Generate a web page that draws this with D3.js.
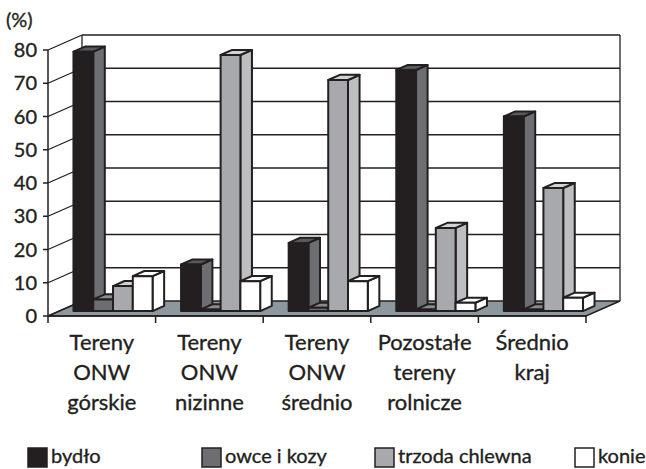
<!DOCTYPE html>
<html><head><meta charset="utf-8">
<script src="https://cdn.jsdelivr.net/npm/d3@7"></script>
<style>body{margin:0;background:#fff}svg{display:block}text{font-family:Lato,"Noto Sans",sans-serif;fill:#231f20;stroke:#231f20;stroke-width:0.35px}</style>
</head><body>
<script>
const categories = ["Tereny ONW górskie", "Tereny ONW nizinne", "Tereny ONW średnio", "Pozostałe tereny rolnicze", "Średnio kraj"];
const seriesNames = ["bydło", "owce i kozy", "trzoda chlewna", "konie"];
const bydlo = [78, 14, 20.5, 72.5, 58.5];
const owce = [3.5, 0.5, 1, 0.5, 0.5];
const trzoda = [7.5, 77, 69.5, 25, 37];
const konie = [10.5, 9, 9, 2.5, 4];
const yTicks = [0, 10, 20, 30, 40, 50, 60, 70, 80];
const seriesValues = [bydlo, owce, trzoda, konie];
const faceColors = [
  {front:"#231f20", side:"#6d6e71", top:"#58595b"},
  {front:"#6d6e71", side:"#58595b", top:"#8a8b8d"},
  {front:"#a7a9ac", side:"#bcbec0", top:"#d1d3d4"},
  {front:"#ffffff", side:"#ffffff", top:"#ffffff"}
];
const W = 646, H = 469;
const svg = d3.select("body").append("svg").attr("width", W).attr("height", H);
const ink = "#231f20";
const DX = 34, DY = -15;
const y = d3.scaleLinear().domain([0, 80]).range([316, 50]);
const x0 = d3.scaleBand().domain(categories).range([48, 586]).paddingInner(0).paddingOuter(0);
const x1 = d3.scaleBand().domain(seriesNames).range([0, x0.bandwidth()]).paddingInner(0).paddingOuter(0.72);
const P = (px, v, z) => [px + z * DX, y(v) + z * DY];
const line = d3.line();

// floor
svg.append("path").attr("d", line([P(48,0,0), P(586,0,0), P(586,0,1), P(48,0,1)]) + "Z")
  .attr("fill", "#8c979e").attr("stroke", ink).attr("stroke-width", 1.5);
// back wall gridlines + left wall lines
yTicks.forEach(t => {
  if (t > 0) svg.append("path").attr("d", line([P(48,t,1), P(586,t,1)])).attr("stroke", ink).attr("stroke-width", 1.5).attr("fill","none");
  svg.append("path").attr("d", line([P(48,t,0), P(48,t,1)])).attr("stroke", ink).attr("stroke-width", 1.3).attr("fill","none");
});
svg.append("path").attr("d", line([P(48,0,1), P(48,80,1)])).attr("stroke", ink).attr("stroke-width", 1.3).attr("fill","none");
svg.append("path").attr("d", line([P(586,0,1), P(586,80,1)])).attr("stroke", ink).attr("stroke-width", 1.3).attr("fill","none");

// bars
const z0 = 0.33, z1 = 0.67;
categories.forEach((c, ci) => {
  seriesNames.forEach((s, si) => {
    const v = seriesValues[si][ci];
    const xl = x0(c) + x1(s), xr = xl + x1.bandwidth();
    const col = faceColors[si];
    const g = svg.append("g").attr("stroke", ink).attr("stroke-width", 2).attr("stroke-linejoin", "round");
    g.append("path").attr("d", line([P(xr,0,z0), P(xr,0,z1), P(xr,v,z1), P(xr,v,z0)]) + "Z").attr("fill", col.side);
    g.append("path").attr("d", line([P(xl,v,z0), P(xr,v,z0), P(xr,v,z1), P(xl,v,z1)]) + "Z").attr("fill", col.top);
    g.append("path").attr("d", line([P(xl,0,z0), P(xr,0,z0), P(xr,v,z0), P(xl,v,z0)]) + "Z").attr("fill", col.front);
  });
});

// front axes
svg.append("path").attr("d", line([P(48,0,0), P(48,80,0)])).attr("stroke", ink).attr("stroke-width", 1.5).attr("fill","none");
svg.append("path").attr("d", line([P(48,0,0), P(586,0,0)])).attr("stroke", ink).attr("stroke-width", 1.5).attr("fill","none");
yTicks.forEach(t => {
  svg.append("line").attr("x1", 43).attr("x2", 48).attr("y1", y(t)).attr("y2", y(t)).attr("stroke", ink).attr("stroke-width", 1.5);
  svg.append("text").attr("x", 37).attr("y", y(t) + 7).attr("text-anchor", "end").attr("font-size", 20).text(t);
});
x0.domain().concat([null]).forEach((c, i) => {
  const xx = c === null ? 586 : x0(c);
  svg.append("line").attr("x1", xx).attr("x2", xx).attr("y1", 316).attr("y2", 323).attr("stroke", ink).attr("stroke-width", 1.5);
});
svg.append("text").attr("x", 6).attr("y", 27).attr("font-size", 20).text("(%)");

// category labels
categories.forEach(c => {
  const t = svg.append("text").attr("text-anchor", "middle").attr("font-size", 22);
  c.split(" ").forEach((w, i) => {
    t.append("tspan").attr("x", x0(c) + x0.bandwidth() / 2).attr("y", 350 + i * 30).text(w);
  });
});

// legend
const legX = [28, 202, 375, 575];
seriesNames.forEach((s, i) => {
  svg.append("rect").attr("x", legX[i]).attr("y", 448).attr("width", 19).attr("height", 19)
    .attr("fill", faceColors[i].front).attr("stroke", ink).attr("stroke-width", 1.5);
  svg.append("text").attr("x", legX[i] + 23).attr("y", 463).attr("font-size", 20).text(s);
});
</script>
</body></html>
